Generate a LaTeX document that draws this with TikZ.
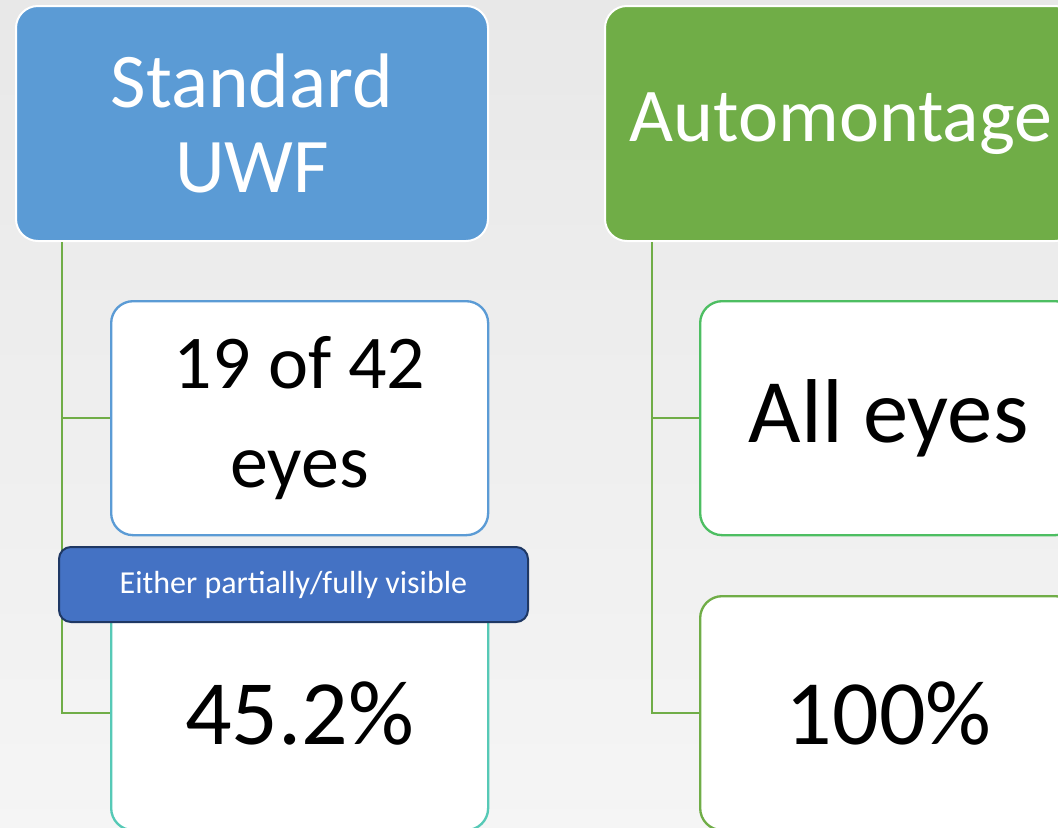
\documentclass[tikz,border=0pt]{standalone}
\usepackage{fontspec}
\setmainfont{Carlito}

\definecolor{hdrblue}{HTML}{5B9BD5}
\definecolor{hdrgreen}{HTML}{70AD47}
\definecolor{bandblue}{HTML}{4472C4}
\definecolor{bandedge}{HTML}{1F3864}
\definecolor{tealedge}{HTML}{56C9B6}
\definecolor{leafgreen}{HTML}{4DBE62}

\tikzset{every picture/.style={line width=0.75pt}}
\tikzset{
  header/.style={draw=white, line width=1.5pt, rounded corners=16.5pt, text=white,
    minimum width=354pt, minimum height=176.25pt, align=center, inner sep=0pt},
  leaf/.style={fill=white, line width=1.75pt, rounded corners=16.5pt, text=black,
    minimum width=282.75pt, minimum height=175.5pt, align=center, inner sep=0pt},
  link/.style={draw=hdrgreen, line width=1.5pt},
}

\begin{document}
\begin{tikzpicture}[x=0.75pt,y=0.75pt,yscale=-1,xscale=1]
\useasboundingbox (0,0) rectangle (1058,828);
\clip (0,0) rectangle (1058,828);

% backdrop
\shade[top color=black!9, bottom color=black!4] (0,0) rectangle (1058,828);

% Headers
\draw (15,5) node [header, fill=hdrblue, anchor=north west, font={\fontsize{58}{64}\selectfont}] (std) {Standard\\UWF};
\draw (604,5) node [header, fill=hdrgreen, anchor=north west, font={\fontsize{57}{62}\selectfont}] (auto) {Automontage};

% Left column
\draw (110,300) node [leaf, draw=hdrblue, anchor=north west, font={\fontsize{57}{74}\selectfont}] (eyes19) {19 of 42\\eyes};
\draw (110,595) node [leaf, draw=tealedge, anchor=north west, font={\fontsize{69}{80}\selectfont}] (pct45) {45.2\%};

% Right column
\draw (699,300) node [leaf, draw=leafgreen, anchor=north west, font={\fontsize{68}{80}\selectfont}] (alleyes) {All eyes};
\draw (699,595) node [leaf, draw=hdrgreen, anchor=north west, font={\fontsize{69}{80}\selectfont}] (pct100) {100\%};

% Connectors
\draw [link] ([xshift=35.25pt]std.south west) |- (eyes19.west);
\draw [link] ([xshift=35.25pt]std.south west) |- (pct45.west);
\draw [link] ([xshift=36pt]auto.south west) |- (alleyes.west);
\draw [link] ([xshift=36pt]auto.south west) |- (pct100.west);

% Banner
\draw (58,546) node [fill=bandblue, draw=bandedge, line width=1.5pt, rounded corners=9pt, text=white,
  minimum width=351.75pt, minimum height=56.25pt, inner sep=0pt, anchor=north west,
  font={\fontsize{24}{28}\selectfont}] (band) {Either partially/fully visible};

\end{tikzpicture}
\end{document}
